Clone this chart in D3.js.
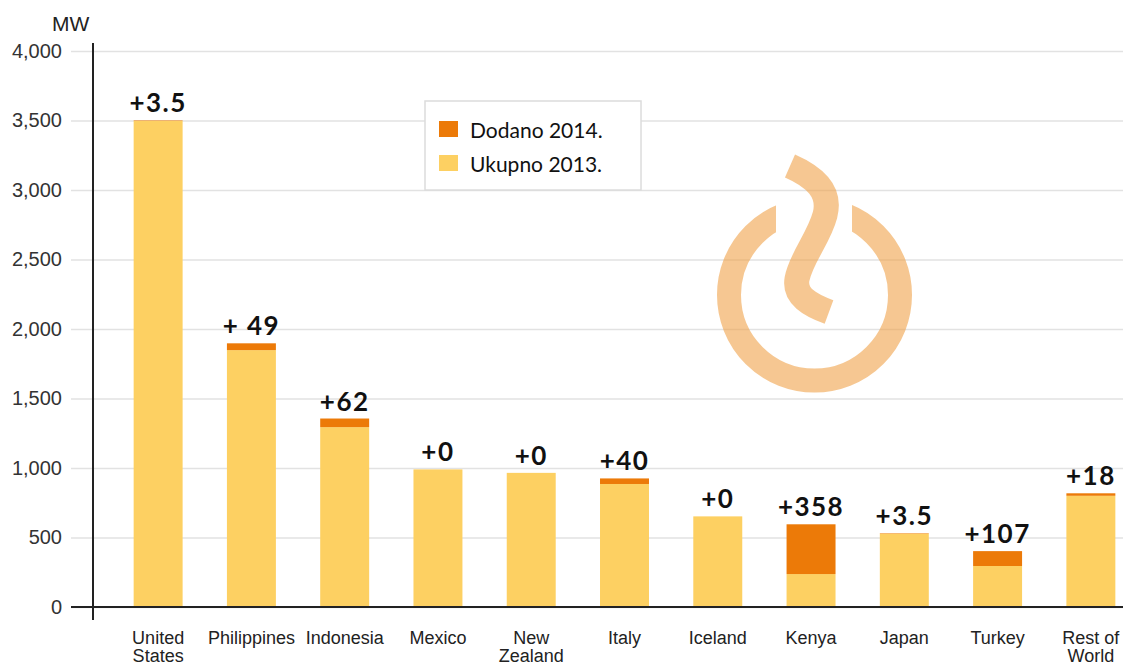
<!DOCTYPE html>
<html>
<head>
<meta charset="utf-8">
<script src="https://cdn.jsdelivr.net/npm/d3@7"></script>
<style>
  body { margin: 0; background: #fff; }
  svg { display: block; }
</style>
</head>
<body>
<svg id="chart" width="1123" height="666"></svg>
<script>
/*********************** Data ***********************/
var categories = ["United States", "Philippines", "Indonesia", "Mexico", "New Zealand", "Italy",
                  "Iceland", "Kenya", "Japan", "Turkey", "Rest of World"];
var categoryLines = [["United", "States"], ["Philippines"], ["Indonesia"], ["Mexico"], ["New", "Zealand"], ["Italy"],
                     ["Iceland"], ["Kenya"], ["Japan"], ["Turkey"], ["Rest of", "World"]];
var total2013 = [3497, 1848, 1294, 990, 965, 885, 652, 237, 527, 295, 800];
var added2014 = [3.5, 49, 62, 0, 0, 40, 0, 358, 3.5, 107, 18];
var addedLabels = ["+3.5", "+ 49", "+62", "+0", "+0", "+40", "+0", "+358", "+3.5", "+107", "+18"];
var yTicks = [0, 500, 1000, 1500, 2000, 2500, 3000, 3500, 4000];
var legendLabels = ["Dodano 2014.", "Ukupno 2013."];

var colYellow = "#FDD062",
    colOrange = "#EC7A08";

/*********************** Scales ***********************/
var svg = d3.select("#chart");

var x = d3.scaleBand()
    .domain(categories)
    .range([111.5, 1137.5])
    .paddingInner(0.475)
    .paddingOuter(0.2375);

var y = d3.scaleLinear()
    .domain([0, 4000])
    .range([607, 51]);

/*********************** Grid + y axis ***********************/
var yAxis = svg.append("g")
    .attr("transform", "translate(71,0)")
    .call(d3.axisLeft(y)
        .tickValues(yTicks)
        .tickSizeInner(-(1123 - 71))
        .tickSizeOuter(0)
        .tickPadding(9)
        .tickFormat(d3.format(",")));
yAxis.select(".domain").remove();
yAxis.selectAll(".tick line")
    .attr("stroke", "#e2e2e2")
    .attr("stroke-width", 1.5);
yAxis.selectAll(".tick text")
    .attr("fill", "#333")
    .style("font-family", "'Liberation Sans', Arial, sans-serif")
    .style("font-size", "20px");

svg.append("text")
    .attr("x", 52).attr("y", 31)
    .attr("fill", "#222")
    .style("font-family", "'Liberation Sans', Arial, sans-serif")
    .style("font-size", "21px")
    .text("MW");

/*********************** Logo (watermark) ***********************/
var logo = svg.append("g").attr("opacity", 0.58);
var cx = 814.5, cy = 295;
var clip = svg.append("defs").append("clipPath").attr("id", "ringClip");
clip.append("rect").attr("x", 700).attr("y", 180).attr("width", 776 - 700).attr("height", 240);
clip.append("rect").attr("x", 852).attr("y", 180).attr("width", 80).attr("height", 240);
clip.append("rect").attr("x", 700).attr("y", cy).attr("width", 230).attr("height", 120);
logo.append("circle")
    .attr("cx", cx).attr("cy", cy).attr("r", 85.5)
    .attr("fill", "none")
    .attr("stroke", "#F0A044")
    .attr("stroke-width", 24)
    .attr("clip-path", "url(#ringClip)");
logo.append("path")
    .attr("d", "M790,166 C815,177 831,192 825,215 C819,238 801,258 797,279 C794,296 810,305 829,312")
    .attr("fill", "none")
    .attr("stroke", "#F0A044")
    .attr("stroke-width", 25);

/*********************** Bars ***********************/
var rows = categories.map(function(c, i) {
    return { cat: c, base: total2013[i], add: added2014[i], label: addedLabels[i], lines: categoryLines[i] };
});

var bars = svg.append("g");
bars.selectAll("rect.base")
    .data(rows).enter().append("rect")
    .attr("class", "base")
    .attr("x", function(d) { return x(d.cat); })
    .attr("width", x.bandwidth())
    .attr("y", function(d) { return y(d.base); })
    .attr("height", function(d) { return y(0) - y(d.base); })
    .attr("fill", colYellow);

bars.selectAll("rect.add")
    .data(rows).enter().append("rect")
    .attr("class", "add")
    .attr("x", function(d) { return x(d.cat); })
    .attr("width", x.bandwidth())
    .attr("y", function(d) { return y(d.base + d.add); })
    .attr("height", function(d) { return y(d.base) - y(d.base + d.add); })
    .attr("fill", colOrange);

bars.selectAll("text.val")
    .data(rows).enter().append("text")
    .attr("class", "val")
    .attr("x", function(d) { return x(d.cat) + x.bandwidth() / 2; })
    .attr("y", function(d) { return y(d.base + d.add) - 8; })
    .attr("text-anchor", "middle")
    .attr("fill", "#111")
    .style("font-family", "Lato, 'Open Sans', sans-serif")
    .style("font-weight", "700")
    .style("font-size", "26px")
    .style("letter-spacing", "1.5px")
    .text(function(d) { return d.label; });

/*********************** Axes lines ***********************/
svg.append("line")
    .attr("x1", 71).attr("x2", 1123)
    .attr("y1", y(0)).attr("y2", y(0))
    .attr("stroke", "#222").attr("stroke-width", 2);
svg.append("line")
    .attr("x1", 93).attr("x2", 93)
    .attr("y1", 43).attr("y2", 620)
    .attr("stroke", "#222").attr("stroke-width", 2);

/*********************** x axis labels ***********************/
var xAxis = svg.append("g")
    .attr("transform", "translate(0," + y(0) + ")")
    .call(d3.axisBottom(x).tickSize(0).tickFormat(""));
xAxis.select(".domain").remove();
xAxis.selectAll(".tick").each(function(c, i) {
    var t = d3.select(this).append("text")
        .attr("fill", "#222")
        .attr("text-anchor", "middle")
        .style("font-family", "'Liberation Sans', Arial, sans-serif")
        .style("font-size", "18px");
    categoryLines[i].forEach(function(s, k) {
        t.append("tspan").attr("x", 0).attr("y", 37 + k * 18).text(s);
    });
});

/*********************** Legend ***********************/
var legend = svg.append("g");
legend.append("rect")
    .attr("x", 425).attr("y", 101).attr("width", 216).attr("height", 89)
    .attr("fill", "#fff").attr("stroke", "#dcdcdc").attr("stroke-width", 1.5);
var legendColors = [colOrange, colYellow];
legendLabels.forEach(function(lbl, i) {
    legend.append("rect")
        .attr("x", 439).attr("y", 121 + i * 34)
        .attr("width", 19).attr("height", 16)
        .attr("fill", legendColors[i]);
    legend.append("text")
        .attr("x", 470).attr("y", 138 + i * 34)
        .attr("fill", "#111")
        .style("font-family", "Lato, 'Open Sans', sans-serif")
        .style("font-size", "21px")
        .text(lbl);
});
</script>
</body>
</html>
